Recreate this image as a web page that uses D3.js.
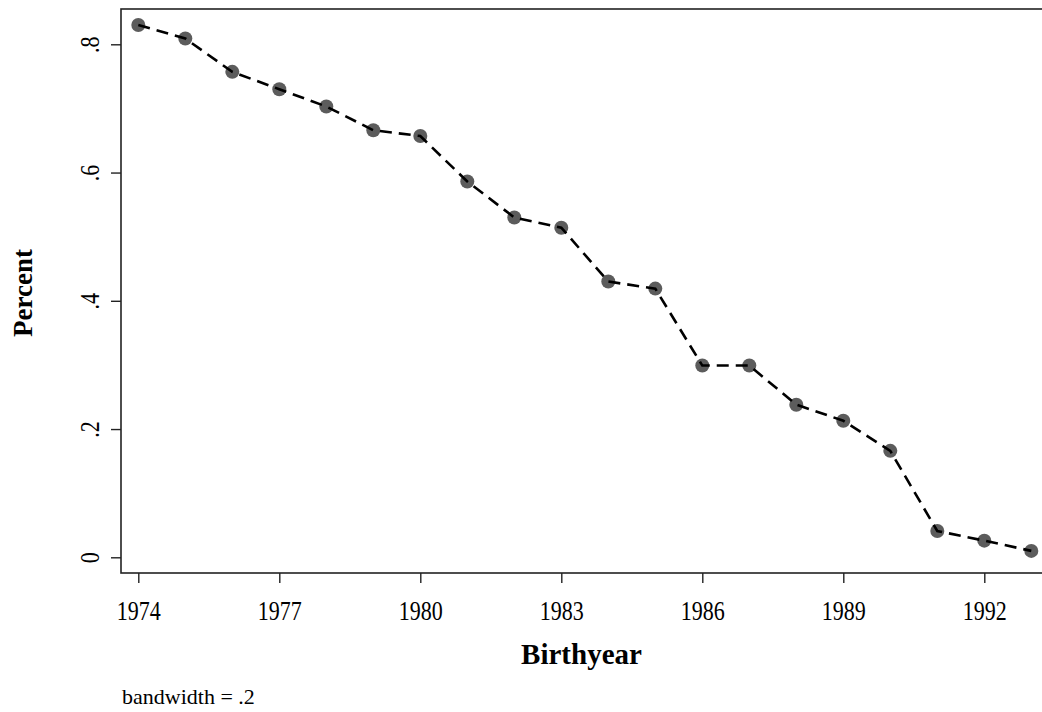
<!DOCTYPE html>
<html>
<head>
<meta charset="utf-8">
<script src="https://cdn.jsdelivr.net/npm/d3@7"></script>
<style>
  body { margin: 0; background: #fff; }
  svg { display: block; font-family: "Liberation Serif", "Times New Roman", serif; }
</style>
</head>
<body>
<div id="graph"></div>
<script>
var years = [1974, 1975, 1976, 1977, 1978, 1979, 1980, 1981, 1982, 1983,
             1984, 1985, 1986, 1987, 1988, 1989, 1990, 1991, 1992, 1993];
var percent = [0.830, 0.809, 0.757, 0.730, 0.703, 0.666, 0.657, 0.586, 0.530, 0.514,
               0.430, 0.419, 0.299, 0.299, 0.238, 0.213, 0.166, 0.041, 0.026, 0.010];
var xTicks = [1974, 1977, 1980, 1983, 1986, 1989, 1992];
var yTicks = [0, 0.2, 0.4, 0.6, 0.8];
var yTickLabels = ["0", ".2", ".4", ".6", ".8"];

var width = 1042, height = 712;
var frame = { left: 121, top: 9, right: 1044, bottom: 573 };

var svg = d3.select("#graph").append("svg")
  .attr("width", width)
  .attr("height", height);

var x = d3.scaleLinear().domain([1974, 1993]).range([138.3, 1031.3]);
var y = d3.scaleLinear().domain([0, 0.8]).range([557.3, 44.3]);

// plot frame
svg.append("rect")
  .attr("x", frame.left)
  .attr("y", frame.top)
  .attr("width", frame.right - frame.left)
  .attr("height", frame.bottom - frame.top)
  .attr("fill", "none")
  .attr("stroke", "#222")
  .attr("stroke-width", 1.6);

// x axis
var xAxis = svg.append("g")
  .attr("transform", "translate(0," + frame.bottom + ")")
  .call(d3.axisBottom(x).tickValues(xTicks).tickFormat(d3.format("d")).tickSize(10));
xAxis.select(".domain").remove();
xAxis.selectAll(".tick line").attr("stroke", "#222").attr("stroke-width", 1.4);
xAxis.selectAll(".tick text")
  .attr("font-family", "Liberation Serif, serif")
  .attr("font-size", 22)
  .attr("fill", "#000")
  .attr("y", null)
  .attr("dy", null)
  .attr("transform", "translate(0,47) scale(1,1.25)");

// y axis (labels rotated like Stata)
var yAxis = svg.append("g")
  .attr("transform", "translate(" + frame.left + ",0)")
  .call(d3.axisLeft(y).tickValues(yTicks).tickSize(10).tickFormat(function (d, i) { return yTickLabels[i]; }));
yAxis.select(".domain").remove();
yAxis.selectAll(".tick line").attr("stroke", "#222").attr("stroke-width", 1.4);
yAxis.selectAll(".tick text")
  .attr("font-family", "Liberation Serif, serif")
  .attr("font-size", 22)
  .attr("fill", "#000")
  .attr("x", null)
  .attr("dy", null)
  .attr("text-anchor", "middle")
  .attr("transform", "translate(-22,0) rotate(-90) scale(1,1.25)");

// markers
var pts = years.map(function (yr, i) { return { year: yr, value: percent[i] }; });

svg.append("g").selectAll("circle")
  .data(pts)
  .enter()
  .append("circle")
  .attr("cx", function (d) { return x(d.year); })
  .attr("cy", function (d) { return y(d.value); })
  .attr("r", 7)
  .attr("fill", "#5c5c5c");

// dashed connecting line over markers
var line = d3.line()
  .x(function (d) { return x(d.year); })
  .y(function (d) { return y(d.value); });

svg.append("path")
  .datum(pts)
  .attr("d", line)
  .attr("fill", "none")
  .attr("stroke", "#000")
  .attr("stroke-width", 2.6)
  .attr("stroke-dasharray", "12,7");

// axis titles
svg.append("text")
  .attr("x", (frame.left + width) / 2)
  .attr("y", 664)
  .attr("text-anchor", "middle")
  .attr("font-weight", "bold")
  .attr("font-size", 29)
  .text("Birthyear");

svg.append("text")
  .attr("transform", "translate(32,293) rotate(-90)")
  .attr("text-anchor", "middle")
  .attr("font-weight", "bold")
  .attr("font-size", 27)
  .text("Percent");

svg.append("text")
  .attr("x", 122)
  .attr("y", 704)
  .attr("font-size", 22)
  .text("bandwidth = .2");
</script>
</body>
</html>
